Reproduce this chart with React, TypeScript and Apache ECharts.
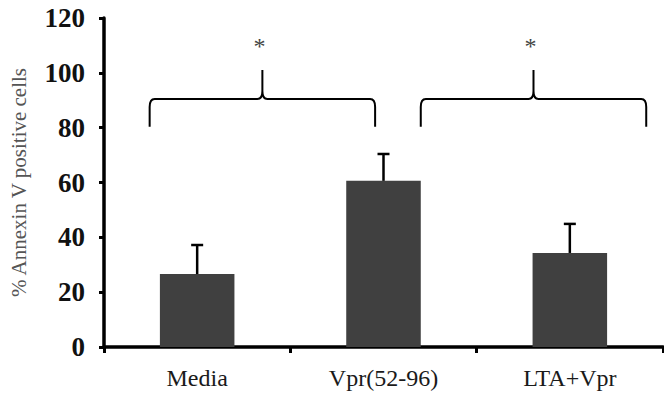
import React, { useEffect, useRef } from "react";
import * as echarts from "echarts";

const categories = ["Media", "Vpr(52-96)", "LTA+Vpr"];
const means = [26.6, 60.6, 34.3];
const errors = [10.6, 9.8, 10.6];
const yTicks = { min: 0, max: 120, interval: 20 };
const yAxisName = "% Annexin V positive cells";
// braces: start/end positions in category units, bottom level, bar level, peak level, star level
const braceStart = [-0.255, 1.2];
const braceEnd = [0.955, 2.41];
const braceBottom = [80.3, 80.3];
const braceLine = [90.5, 90.5];
const bracePeak = [101, 101];
const braceStarY = [111, 111];
const braceLabels = ["*", "*"];

const FONT = '"Liberation Serif", "Times New Roman", serif';

export default function App() {
  const ref = useRef<HTMLDivElement>(null);
  useEffect(() => {
    if (!ref.current) return;
    const chart = echarts.init(ref.current, undefined, { renderer: "svg" });
    const errData = means.map((m, i) => [i, m, errors[i]]);
    const braceData = braceStart.map((s, i) => [0, s, braceEnd[i], braceBottom[i], braceLine[i], bracePeak[i], braceStarY[i], i]);
    chart.setOption({
      animation: false,
      grid: { left: 100, right: 1, top: 18, bottom: 52 },
      xAxis: {
        type: "category",
        data: categories,
        boundaryGap: true,
        axisLine: { lineStyle: { color: "#000", width: 3.5 } },
        axisTick: { show: true, length: 6, lineStyle: { color: "#000", width: 3 } },
        axisLabel: { fontFamily: FONT, fontSize: 24, color: "#1a1a1a", margin: 19 },
      },
      yAxis: {
        type: "value",
        min: yTicks.min,
        max: yTicks.max,
        interval: yTicks.interval,
        name: yAxisName,
        nameLocation: "middle",
        nameGap: 75,
        nameRotate: 90,
        nameTextStyle: { fontFamily: FONT, fontSize: 21, color: "#555" },
        splitLine: { show: false },
        axisLine: { show: true, lineStyle: { color: "#000", width: 3.5 } },
        axisTick: { show: true, length: 5, lineStyle: { color: "#000", width: 3 } },
        axisLabel: { fontFamily: FONT, fontSize: 27, fontWeight: "bold", color: "#111", margin: 19 },
      },
      series: [
        {
          type: "bar",
          data: means,
          barWidth: "40%",
          itemStyle: { color: "#404040" },
          z: 2,
        },
        {
          type: "custom",
          data: errData,
          encode: { x: 0, y: 1 },
          z: 3,
          renderItem: (params: any, api: any) => {
            const i = api.value(0);
            const m = api.value(1);
            const e = api.value(2);
            const base = api.coord([i, m]);
            const top = api.coord([i, m + e]);
            return {
              type: "group",
              children: [
                { type: "line", shape: { x1: base[0], y1: base[1], x2: top[0], y2: top[1] }, style: { stroke: "#000", lineWidth: 2.5 } },
                { type: "line", shape: { x1: top[0] - 6, y1: top[1], x2: top[0] + 6, y2: top[1] }, style: { stroke: "#000", lineWidth: 2.5 } },
              ],
            };
          },
        },
        {
          type: "custom",
          data: braceData,
          encode: { x: 0, y: 4 },
          clip: false,
          z: 4,
          renderItem: (params: any, api: any) => {
            const c0 = api.coord([0, 0])[0];
            const bw = api.size([1, 0])[0];
            const xL = c0 + api.value(1) * bw;
            const xR = c0 + api.value(2) * bw;
            const xM = (xL + xR) / 2;
            const yB = api.coord([0, api.value(3)])[1];
            const yH = api.coord([0, api.value(4)])[1];
            const yP = api.coord([0, api.value(5)])[1];
            const yS = api.coord([0, api.value(6)])[1];
            const idx = api.value(7);
            const r = 8;
            const d =
              `M${xL},${yB} L${xL},${yH + r} Q${xL},${yH} ${xL + 5},${yH} ` +
              `L${xM - 5},${yH} Q${xM},${yH} ${xM},${yH - r} L${xM},${yP} ` +
              `M${xM},${yH - r} Q${xM},${yH} ${xM + 5},${yH} L${xR - 5},${yH} ` +
              `Q${xR},${yH} ${xR},${yH + r} L${xR},${yB}`;
            return {
              type: "group",
              children: [
                { type: "path", shape: { pathData: d }, style: { fill: "none", stroke: "#000", lineWidth: 2 } },
                {
                  type: "text",
                  x: xM - 3,
                  y: yS + 3,
                  style: { text: braceLabels[idx], fontFamily: FONT, fontSize: 24, fill: "#444", align: "center", verticalAlign: "middle" },
                },
              ],
            };
          },
        },
      ],
    });
    return () => chart.dispose();
  }, []);
  return <div ref={ref} style={{ position: "fixed", left: 0, top: 0, width: 664, height: 399, background: "#fff" }} />;
}
